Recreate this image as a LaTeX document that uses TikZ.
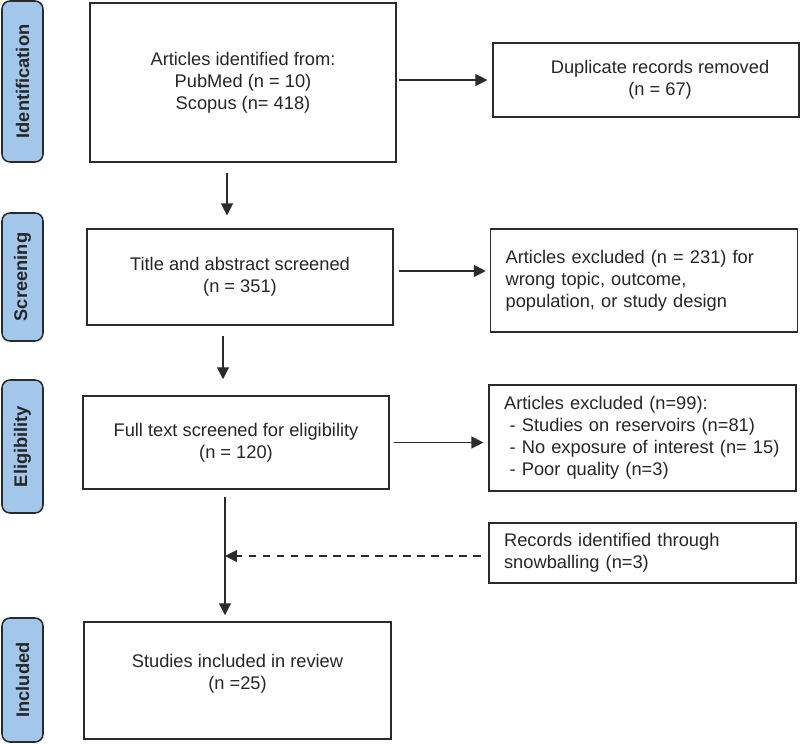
\documentclass[tikz,border=0pt]{standalone}
\usepackage{fontspec}
\setmainfont{Liberation Sans}
\usepackage{tikz}
\usetikzlibrary{arrows.meta,positioning}
\definecolor{stageblue}{HTML}{A3C7EA}
\definecolor{linegray}{HTML}{2B2B2B}

\tikzset{
  stage/.style={draw=linegray, line width=1.1pt, fill=stageblue, rounded corners=0.2cm,
    rotate=90, minimum height=1.025cm, inner sep=0pt,
    font=\fontsize{13}{15.6}\selectfont\bfseries, text=black!85},
  box/.style={draw=linegray, line width=1.1pt, minimum width=7.65cm, align=center,
    font=\fontsize{13}{15.6}\selectfont, text=black!85},
  sidebox/.style={draw=linegray, line width=1.1pt, text width=6.92cm, inner xsep=0.3775cm,
    align=left, font=\fontsize{13}{15.6}\selectfont, text=black!85},
  arr/.style={draw=linegray, line width=0.9pt, -{Triangle[length=8.5pt,width=8.5pt]}}
}

\begin{document}
\begin{tikzpicture}
    \useasboundingbox (0,0) rectangle (20,-18.575);

    % Stage labels
    \node[stage, minimum width=4.025cm] (lab1) at (0.5625, -2.0375) {Identification};
    \node[stage, minimum width=3.2cm] (lab2) at (0.5625, -6.925) {Screening};
    \node[stage, minimum width=3.325cm] (lab3) at (0.5625, -11.1625) {Eligibility};
    \node[stage, minimum width=3.1cm] (lab4) at (0.5625, -17.0) {Included};

    % Main flow
    \node[box, minimum height=3.975cm] (ident) at (6.075, -2.0625)
        {Articles identified from:\\PubMed (n = 10)\\Scopus (n= 418)};
    \node[box, minimum height=2.4cm] (title) at (6.0, -6.925)
        {Title and abstract screened\\(n = 351)};
    \node[box, minimum height=2.325cm] (full) at (5.9, -11.0625)
        {Full text screened for eligibility\\(n = 120)};
    \node[box, minimum width=7.675cm, minimum height=2.925cm] (incl) at (5.9375, -17.0125)
        {Studies included in review\\(n =25)\\[-0.1cm]};

    % Side boxes
    \node[box, minimum height=1.85cm] (dup) at (16.15, -2.0)
        {\hspace*{20pt}\begin{tabular}{@{}c@{}}Duplicate records removed\\(n = 67)\end{tabular}};
    \node[sidebox, minimum height=2.575cm] (excl1) at (16.1, -7.0125)
        {Articles excluded (n = 231) for\\wrong topic, outcome,\\population, or study design};
    \node[sidebox, minimum height=2.65cm] (excl2) at (16.0625, -10.95)
        {Articles excluded (n=99):\\
         \hspace*{0.14cm}- Studies on reservoirs (n=81)\\
         \hspace*{0.14cm}- No exposure of interest (n=~15)\\
         \hspace*{0.14cm}- Poor quality (n=3)};
    \node[sidebox, minimum height=1.5cm] (snow) at (16.0625, -13.825)
        {Records identified through\\snowballing (n=3)};

    % Vertical arrows
    \coordinate (trunk) at ([xshift=-0.275cm]full.south);
    \draw[arr, shorten <=0.25cm, shorten >=0.32cm] ([xshift=-0.4cm]ident.south)
        -- ([xshift=-0.4cm]ident.south |- title.north);
    \draw[arr, shorten <=0.25cm, shorten >=0.4cm] ([xshift=-0.425cm]title.south)
        -- ([xshift=-0.425cm]title.south |- full.north);
    \draw[arr, shorten <=0.175cm, shorten >=0.15cm] (trunk) -- (trunk |- incl.north);

    % Horizontal arrows
    \draw[arr, shorten <=0.05cm, shorten >=0.12cm] (ident.east |- dup.west) -- (dup.west);
    \draw[arr, shorten <=0.12cm, shorten >=0.1cm] ([yshift=0.15cm]title.east)
        -- ([yshift=0.15cm]title.east -| excl1.west);
    \draw[arr, shorten <=0.1cm, shorten >=0.12cm] (full.east) -- (full.east -| excl2.west);

    % Snowballing
    \draw[arr, dash pattern=on 5.5pt off 4.5pt, shorten <=0.175cm]
        ([yshift=-0.075cm]snow.west) -- ([yshift=-0.075cm]snow.west -| trunk);
\end{tikzpicture}
\end{document}
